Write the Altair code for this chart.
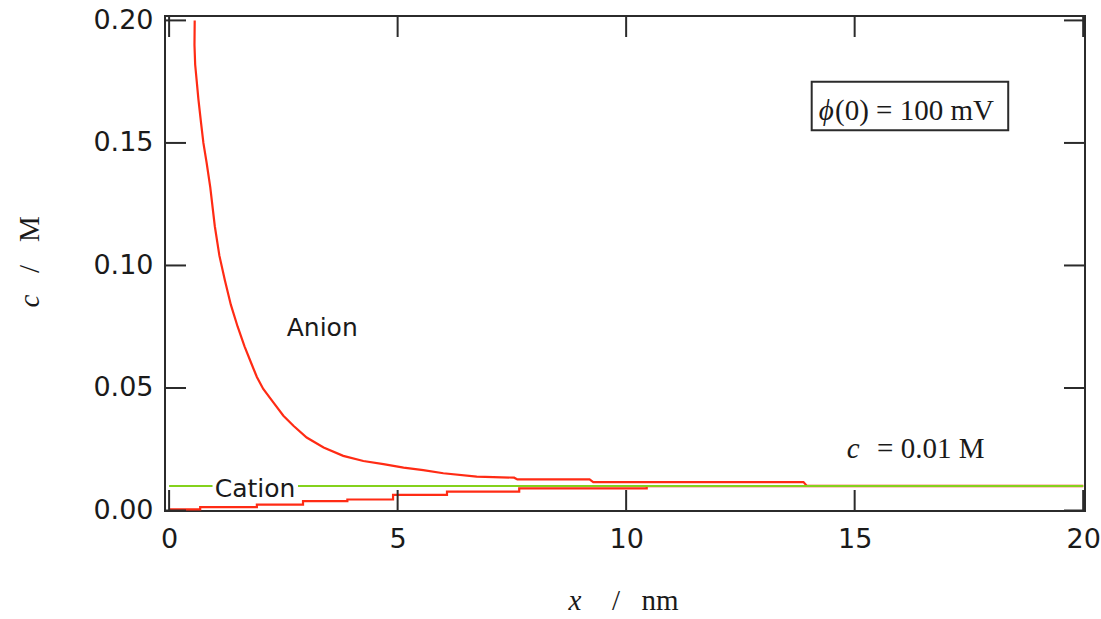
import altair as alt
import pandas as pd

# ---- data ----
anion_x = [0.56, 0.555, 0.57, 0.60, 0.64, 0.70, 0.75, 0.82, 0.90, 1.00, 1.10, 1.22, 1.35,
           1.50, 1.65, 1.80, 1.92, 2.06, 2.28, 2.50, 2.72, 3.01, 3.38, 3.81, 4.25, 4.69,
           5.13, 5.56, 6.00, 6.73, 7.55, 7.62, 9.20, 9.28, 13.88, 13.95, 20.0]
anion_y = [0.200, 0.190, 0.182, 0.176, 0.168, 0.158, 0.150, 0.142, 0.132, 0.116, 0.104,
           0.094, 0.084, 0.075, 0.067, 0.060, 0.0545, 0.0496, 0.0441, 0.0387, 0.0346,
           0.0298, 0.0257, 0.0223, 0.0202, 0.0189, 0.0175, 0.0165, 0.0152, 0.0138,
           0.0134, 0.0127, 0.0127, 0.0116, 0.0116, 0.0101, 0.0101]

cation_x = [0.0, 0.68, 1.92, 2.93, 3.90, 4.90, 6.08, 7.66, 10.45, 20.0]
cation_y = [0.0005, 0.0014, 0.0024, 0.0038, 0.0045, 0.0064, 0.0077, 0.0090, 0.0099, 0.0099]

bulk_x = [0.0, 20.0]
bulk_y = [0.01, 0.01]

x_ticks = [0, 5, 10, 15, 20]
y_ticks = [0.0, 0.05, 0.10, 0.15, 0.20]

# ---- styling ----
W, H = 920, 495
XDOM = [-0.09, 20.04]
YDOM = [-0.0002, 0.2018]
RED = "#ff2b14"
GREEN = "#84d21c"
INK = "#1a1a1a"
FRAME = "#2b2b2b"
SANS = "DejaVu Sans"
SERIF = "Liberation Serif"

XS = alt.Scale(domain=XDOM, nice=False, zero=False)
YS = alt.Scale(domain=YDOM, nice=False, zero=False)
AX = alt.Axis(values=x_ticks, ticks=False, tickSize=0, domain=False, grid=False,
              labelFont=SANS, labelFontSize=27, labelColor=INK, labelPadding=15,
              labelFlush=False, title=None, format="d")
AY = alt.Axis(values=y_ticks, ticks=False, tickSize=0, domain=False, grid=False,
              labelFont=SANS, labelFontSize=27, labelColor=INK, labelPadding=12,
              labelFlush=False, title=None, format=".2f")


def ex(field="x"):
    return alt.X(f"{field}:Q", scale=XS, axis=AX)


def ey(field="y"):
    return alt.Y(f"{field}:Q", scale=YS, axis=AY)


anion_df = pd.DataFrame({"x": anion_x, "y": anion_y, "i": list(range(len(anion_x)))})
cation_df = pd.DataFrame({"x": cation_x, "y": cation_y})
bulk_df = pd.DataFrame({"x": bulk_x, "y": bulk_y})

anion = alt.Chart(anion_df).mark_line(color=RED, strokeWidth=2.2, clip=True).encode(
    x=ex(), y=ey(), order=alt.Order("i:Q"))
cation = alt.Chart(cation_df).mark_line(color=RED, strokeWidth=2.2, interpolate="step-after",
                                        clip=True).encode(x=ex(), y=ey())
bulk = alt.Chart(bulk_df).mark_line(color=GREEN, strokeWidth=2.2, clip=True).encode(x=ex(), y=ey())

# white patch behind the "Cation" label
patch_df = pd.DataFrame({"x": [0.95], "x2": [2.82], "y": [0.0084], "y2": [0.0118]})
patch = alt.Chart(patch_df).mark_rect(fill="white").encode(
    x=ex(), x2="x2:Q", y=ey(), y2="y2:Q")

sans_df = pd.DataFrame({"x": [3.35, 1.88], "y": [0.0712, 0.0055], "t": ["Anion", "Cation"]})
sans_text = alt.Chart(sans_df).mark_text(font=SANS, fontSize=25, color=INK, align="center",
                                         baseline="alphabetic").encode(x=ex(), y=ey(), text="t:N")

# "c = 0.01 M"
c_it = alt.Chart(pd.DataFrame({"x": [14.97], "y": [0.0214], "t": ["c"]})).mark_text(
    font=SERIF, fontSize=29, fontStyle="italic", color=INK, align="center",
    baseline="alphabetic").encode(x=ex(), y=ey(), text="t:N")
c_rest = alt.Chart(pd.DataFrame({"x": [15.49], "y": [0.0214], "t": ["= 0.01 M"]})).mark_text(
    font=SERIF, fontSize=29, color=INK, align="left",
    baseline="alphabetic").encode(x=ex(), y=ey(), text="t:N")

# boxed potential label
box_df = pd.DataFrame({"x": [14.06], "x2": [18.36], "y": [0.1552], "y2": [0.1750]})
box = alt.Chart(box_df).mark_rect(fill="white", stroke=FRAME, strokeWidth=2).encode(
    x=ex(), x2="x2:Q", y=ey(), y2="y2:Q")
phi = alt.Chart(pd.DataFrame({"x": [14.38], "y": [0.1594], "t": ["ϕ"]})).mark_text(
    font=SERIF, fontSize=29, fontStyle="italic", color=INK, align="center",
    baseline="alphabetic").encode(x=ex(), y=ey(), text="t:N")
phi_rest = alt.Chart(pd.DataFrame({"x": [14.57], "y": [0.1594], "t": ["(0) = 100 mV"]})).mark_text(
    font=SERIF, fontSize=29, color=INK, align="left",
    baseline="alphabetic").encode(x=ex(), y=ey(), text="t:N")

# inward ticks on all four sides
TL = 21
xt_df = pd.DataFrame({"x": x_ticks})
yt_df = pd.DataFrame({"y": y_ticks})
tick_style = dict(color=FRAME, strokeWidth=2)
t_bottom = alt.Chart(xt_df).mark_rule(**tick_style).encode(
    x=ex(), y=alt.value(H), y2=alt.value(H - TL))
t_top = alt.Chart(xt_df).mark_rule(**tick_style).encode(
    x=ex(), y=alt.value(0), y2=alt.value(TL))
t_left = alt.Chart(yt_df).mark_rule(**tick_style).encode(
    y=ey(), x=alt.value(0), x2=alt.value(TL))
t_right = alt.Chart(yt_df).mark_rule(**tick_style).encode(
    y=ey(), x=alt.value(W), x2=alt.value(W - TL))

# axis titles (mixed italic / upright)
one = pd.DataFrame({"k": [0]})


def title_text(txt, px, py, italic=False, angle=0):
    kw = dict(font=SERIF, fontSize=29, color=INK, align="center", baseline="alphabetic")
    if italic:
        kw["fontStyle"] = "italic"
    if angle:
        kw["angle"] = angle
    return alt.Chart(one).mark_text(text=txt, **kw).encode(x=alt.value(px), y=alt.value(py))


titles = [
    title_text("x", 410, 594, italic=True),
    title_text("/", 451, 594),
    title_text("nm", 495, 594),
    title_text("c", -126, 285, italic=True, angle=270),
    title_text("/", -126, 253, angle=270),
    title_text("M", -126, 213, angle=270),
]

chart = alt.layer(
    anion, cation, bulk, patch, sans_text, c_it, c_rest, box, phi, phi_rest,
    t_bottom, t_top, t_left, t_right, *titles
).properties(
    width=W, height=H,
    autosize=alt.AutoSizeParams(type="none"),
    padding={"left": 165, "top": 16, "right": 16, "bottom": 108},
    background="white",
).configure_view(stroke=FRAME, strokeWidth=2)

chart.save("out.html", embed_options={"renderer": "svg", "actions": False})
